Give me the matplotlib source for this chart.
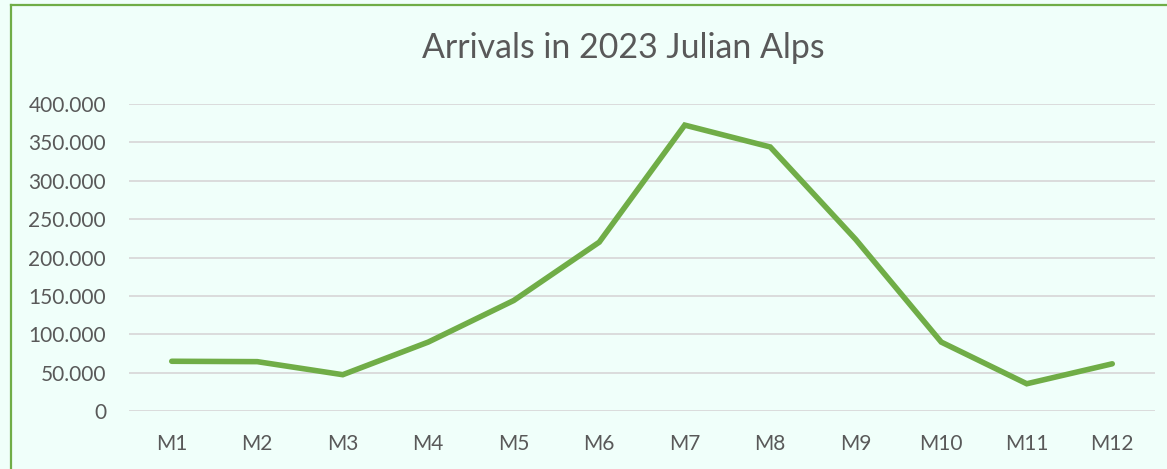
import matplotlib

matplotlib.use("Agg")
import matplotlib.pyplot as plt
from matplotlib.lines import Line2D
from matplotlib.ticker import FuncFormatter

# Monthly arrivals
months = ["M1", "M2", "M3", "M4", "M5", "M6",
          "M7", "M8", "M9", "M10", "M11", "M12"]
arrivals = [64800, 64300, 47300, 89800, 144000, 220000,
            372500, 344000, 223500, 89800, 35500, 61500]
y_ticks = [0, 50000, 100000, 150000, 200000, 250000, 300000, 350000, 400000]

BG = "#F0FFFA"
GREEN = "#70AD47"
TXT = "#595959"
GRID = "#D9D9D9"

plt.rcParams["font.family"] = ["Lato", "DejaVu Sans"]

W, H = 1167, 469
fig = plt.figure(figsize=(W / 100, H / 100), dpi=100, facecolor=BG)
ax = fig.add_axes([129 / W, 1 - 411 / H, (1155 - 129) / W, (411 - 104) / H])
ax.set_facecolor(BG)

x = list(range(len(months)))
ax.plot(x, arrivals, color=GREEN, lw=4, solid_capstyle="round",
        solid_joinstyle="miter", zorder=3)

ax.set_xlim(-0.5, len(months) - 0.5)
ax.set_ylim(0, 400000)
ax.set_yticks(y_ticks)
ax.yaxis.set_major_formatter(
    FuncFormatter(lambda v, _: f"{int(v):,}".replace(",", ".")))
ax.set_xticks(x)
ax.set_xticklabels(months)
ax.grid(axis="y", color=GRID, lw=1.3)
ax.set_axisbelow(True)
for s in ax.spines.values():
    s.set_visible(False)
ax.tick_params(length=0, labelsize=15, colors=TXT)
ax.tick_params(axis="y", pad=16.5)
ax.tick_params(axis="x", pad=16.5)

fig.text(623.5 / W, 1 - 47.5 / H, "Arrivals in 2023 Julian Alps",
         ha="center", va="center", fontsize=24.4, color=TXT)

# chart-area border (left and top visible; right/bottom are cropped)
bx, by = 10.5 / W, 1 - 5.5 / H
fig.add_artist(Line2D([bx, bx], [0, by], color=GREEN, lw=1.6,
                      transform=fig.transFigure))
fig.add_artist(Line2D([bx, 1], [by, by], color=GREEN, lw=1.6,
                      transform=fig.transFigure))

fig.savefig("out.png", dpi=100, facecolor=BG)
